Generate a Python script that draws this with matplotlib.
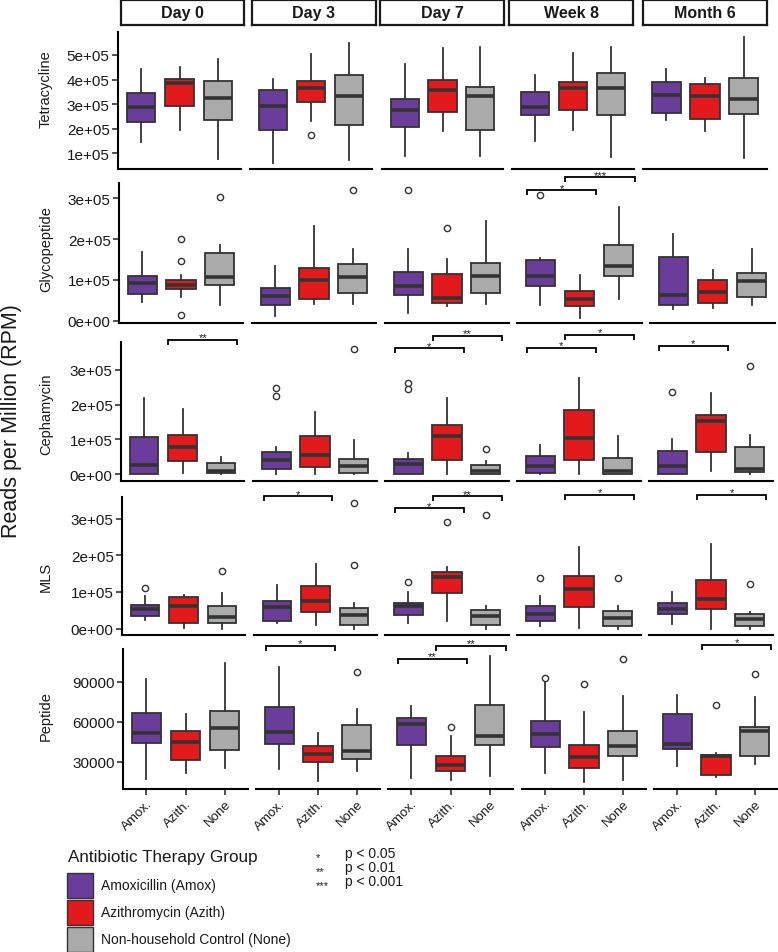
import matplotlib
matplotlib.use("Agg")
import matplotlib.pyplot as plt
from matplotlib.patches import Rectangle

plt.rcParams['font.family'] = ['Liberation Sans', 'DejaVu Sans']

# ---------------- data ----------------
times = ["Day 0", "Day 3", "Day 7", "Week 8", "Month 6"]
groups = ["Amox.", "Azith.", "None"]
classes = ["Tetracycline", "Glycopeptide", "Cephamycin", "MLS", "Peptide"]
legend_labels = ["Amoxicillin (Amox)", "Azithromycin (Azith)", "Non-household Control (None)"]
colors = ["#6B3D9A", "#E31A1C", "#AAAAAA"]

# each stat: rows = time points, cols = groups (Amox, Azith, None)
tet_q1 = [[2.28e5, 2.91e5, 2.36e5], [1.95e5, 3.07e5, 2.16e5], [2.07e5, 2.68e5, 1.97e5], [2.57e5, 2.76e5, 2.56e5], [2.65e5, 2.38e5, 2.61e5]]
tet_med = [[2.885e5, 3.84e5, 3.24e5], [2.94e5, 3.64e5, 3.35e5], [2.75e5, 3.59e5, 3.32e5], [2.89e5, 3.64e5, 3.64e5], [3.36e5, 3.32e5, 3.23e5]]
tet_q3 = [[3.46e5, 4.03e5, 3.95e5], [3.59e5, 3.93e5, 4.18e5], [3.21e5, 3.98e5, 3.70e5], [3.51e5, 3.92e5, 4.25e5], [3.89e5, 3.80e5, 4.06e5]]
tet_lo = [[1.45e5, 1.97e5, 0.77e5], [0.63e5, 2.30e5, 0.74e5], [0.90e5, 1.91e5, 0.90e5], [1.52e5, 1.97e5, 0.85e5], [2.35e5, 1.91e5, 0.80e5]]
tet_hi = [[4.41e5, 4.50e5, 4.84e5], [4.03e5, 5.03e5, 5.48e5], [4.65e5, 5.30e5, 5.34e5], [4.18e5, 5.07e5, 5.33e5], [4.41e5, 4.05e5, 5.71e5]]
tet_out = [(1, 1, 1.76e5)]

gly_q1 = [[0.65e5, 0.77e5, 0.88e5], [0.38e5, 0.54e5, 0.68e5], [0.64e5, 0.43e5, 0.69e5], [0.86e5, 0.37e5, 1.09e5], [0.39e5, 0.44e5, 0.59e5]]
gly_med = [[0.93e5, 0.88e5, 1.06e5], [0.60e5, 1.01e5, 1.06e5], [0.85e5, 0.56e5, 1.09e5], [1.09e5, 0.53e5, 1.34e5], [0.64e5, 0.70e5, 0.98e5]]
gly_q3 = [[1.09e5, 1.01e5, 1.66e5], [0.81e5, 1.28e5, 1.40e5], [1.20e5, 1.15e5, 1.42e5], [1.48e5, 0.74e5, 1.86e5], [1.56e5, 1.00e5, 1.18e5]]
gly_lo = [[0.47e5, 0.57e5, 0.38e5], [0.12e5, 0.40e5, 0.42e5], [0.19e5, 0.37e5, 0.41e5], [0.39e5, 0.07e5, 0.53e5], [0.28e5, 0.32e5, 0.38e5]]
gly_hi = [[1.68e5, 1.11e5, 1.86e5], [1.35e5, 2.33e5, 1.76e5], [1.76e5, 1.51e5, 2.45e5], [1.54e5, 1.13e5, 2.78e5], [2.12e5, 1.24e5, 1.76e5]]
gly_out = [(0, 1, 2.0e5), (0, 1, 1.46e5), (0, 1, 0.14e5), (0, 2, 3.04e5), (1, 2, 3.21e5),
           (2, 0, 3.21e5), (2, 1, 2.28e5), (3, 0, 3.08e5)]

cep_q1 = [[0.02e5, 0.39e5, 0.03e5], [0.15e5, 0.22e5, 0.03e5], [0.01e5, 0.42e5, 0.01e5], [0.05e5, 0.40e5, 0.01e5], [0.02e5, 0.63e5, 0.07e5]]
cep_med = [[0.28e5, 0.77e5, 0.11e5], [0.40e5, 0.55e5, 0.23e5], [0.29e5, 1.09e5, 0.11e5], [0.23e5, 1.04e5, 0.09e5], [0.24e5, 1.53e5, 0.16e5]]
cep_q3 = [[1.06e5, 1.13e5, 0.33e5], [0.63e5, 1.09e5, 0.43e5], [0.45e5, 1.42e5, 0.28e5], [0.54e5, 1.83e5, 0.47e5], [0.66e5, 1.71e5, 0.77e5]]
cep_lo = [[0.0, 0.04e5, 0.0], [0.0, 0.0, 0.0], [0.0, 0.0, 0.0], [0.0, 0.0, 0.0], [0.0, 0.09e5, 0.0]]
cep_hi = [[2.18e5, 1.88e5, 0.50e5], [0.78e5, 1.78e5, 0.98e5], [0.61e5, 2.18e5, 0.38e5], [0.83e5, 2.75e5, 1.11e5], [1.01e5, 2.33e5, 1.13e5]]
cep_out = [(1, 0, 2.47e5), (1, 0, 2.24e5), (1, 2, 3.59e5), (2, 0, 2.62e5), (2, 0, 2.45e5),
           (2, 2, 0.73e5), (4, 0, 2.37e5), (4, 2, 3.11e5)]

mls_q1 = [[0.35e5, 0.16e5, 0.14e5], [0.22e5, 0.45e5, 0.10e5], [0.36e5, 0.96e5, 0.09e5], [0.20e5, 0.59e5, 0.07e5], [0.39e5, 0.53e5, 0.06e5]]
mls_med = [[0.54e5, 0.62e5, 0.32e5], [0.59e5, 0.74e5, 0.37e5], [0.63e5, 1.41e5, 0.34e5], [0.41e5, 1.09e5, 0.28e5], [0.53e5, 0.80e5, 0.27e5]]
mls_q3 = [[0.65e5, 0.87e5, 0.62e5], [0.74e5, 1.15e5, 0.57e5], [0.70e5, 1.55e5, 0.50e5], [0.63e5, 1.43e5, 0.49e5], [0.69e5, 1.32e5, 0.41e5]]
mls_lo = [[0.23e5, 0.01e5, 0.0], [0.14e5, 0.10e5, 0.0], [0.14e5, 0.20e5, 0.0], [0.07e5, 0.02e5, 0.0], [0.13e5, 0.0, 0.0]]
mls_hi = [[0.88e5, 0.93e5, 0.96e5], [1.18e5, 1.75e5, 0.70e5], [1.00e5, 1.69e5, 0.62e5], [0.88e5, 2.22e5, 0.63e5], [1.00e5, 2.32e5, 0.46e5]]
mls_out = [(0, 0, 1.11e5), (0, 2, 1.56e5), (1, 2, 1.74e5), (1, 2, 3.43e5), (2, 0, 1.27e5),
           (2, 1, 2.92e5), (2, 2, 3.11e5), (3, 0, 1.39e5), (3, 2, 1.38e5), (4, 2, 1.21e5)]

pep_q1 = [[44250, 31275, 39000], [43275, 29550, 31800], [42750, 22800, 42525], [40800, 25050, 34050], [39525, 20250, 34500]]
pep_med = [[51525, 44775, 55500], [52500, 35775, 38250], [58050, 27525, 49500], [50775, 33300, 41775], [43275, 34500, 52800]]
pep_q3 = [[66300, 52800, 67800], [71250, 42000, 57525], [62775, 34500, 72525], [60750, 42750, 52800], [66000, 35250, 55800]]
pep_lo = [[17025, 21525, 25275], [24525, 15300, 23025], [17775, 16500, 19500], [21525, 14550, 16500], [27000, 18300, 28275]]
pep_hi = [[92025, 65775, 103800], [101250, 51750, 69525], [72000, 49500, 109050], [89550, 67050, 79050], [80025, 36525, 78300]]
pep_out = [(1, 2, 97050), (2, 1, 56250), (3, 0, 93000), (3, 1, 88275), (3, 2, 107025),
           (4, 1, 72750), (4, 2, 95775)]

# significance brackets: (class index, time index, comparison, height, label)
# comparison "A" = Amox vs Azith, "B" = Azith vs None
brackets = [
    (1, 3, "A", 3.20e5, "*"), (1, 3, "B", 3.51e5, "***"),
    (2, 0, "B", 3.85e5, "**"), (2, 2, "A", 3.61e5, "*"), (2, 2, "B", 3.97e5, "**"),
    (2, 3, "A", 3.63e5, "*"), (2, 3, "B", 3.99e5, "*"), (2, 4, "A", 3.68e5, "*"),
    (3, 1, "A", 3.61e5, "*"), (3, 2, "A", 3.28e5, "*"), (3, 2, "B", 3.61e5, "**"),
    (3, 3, "B", 3.65e5, "*"), (3, 4, "B", 3.65e5, "*"),
    (4, 1, "A", 117000, "*"), (4, 2, "A", 107025, "**"), (4, 2, "B", 117000, "**"),
    (4, 4, "B", 117750, "*"),
]
bracket_span = {"A": (0.65, 2.43), "B": (1.63, 3.43)}

row_stats = [
    (tet_q1, tet_med, tet_q3, tet_lo, tet_hi, tet_out),
    (gly_q1, gly_med, gly_q3, gly_lo, gly_hi, gly_out),
    (cep_q1, cep_med, cep_q3, cep_lo, cep_hi, cep_out),
    (mls_q1, mls_med, mls_q3, mls_lo, mls_hi, mls_out),
    (pep_q1, pep_med, pep_q3, pep_lo, pep_hi, pep_out),
]
row_ticks = [[1e5, 2e5, 3e5, 4e5, 5e5], [0, 1e5, 2e5, 3e5], [0, 1e5, 2e5, 3e5], [0, 1e5, 2e5, 3e5], [30000, 60000, 90000]]
row_ylim = [(0.39e5, 5.93e5), (-0.056e5, 3.375e5), (-0.19e5, 3.79e5), (-0.174e5, 3.59e5), (9525, 114525)]

# ---------------- layout (pixels) ----------------
W, H = 778, 953
row_y = [(33, 169.5), (184, 324), (343, 482), (498, 636), (650, 790)]
row_cols = [
    [(118, 241), (250, 372), (382, 503), (512, 634), (643, 767)],
    [(119, 243), (252, 376), (385, 509), (517, 642), (650, 775)],
    [(121, 244), (253, 377), (385, 509), (517, 641), (649, 773)],
    [(122, 245), (254, 377), (385, 509), (517, 641), (649, 773)],
    [(123, 248), (256, 380), (388, 513), (522, 646), (654, 778)],
]
strip_x = [(121, 244), (252, 376), (380, 504), (509, 633), (643, 767)]
row_label_y = [89.5, 249, 414.5, 576.7, 716]

EDGE = "#333333"

fig = plt.figure(figsize=(W / 100, H / 100), dpi=100)

# overlay for legend elements (pixel coords)
ov = fig.add_axes([0, 0, 1, 1])
ov.set_xlim(0, W)
ov.set_ylim(H, 0)
ov.axis("off")


def px_axes(x0, y0, x1, y1):
    return fig.add_axes([x0 / W, 1 - y1 / H, (x1 - x0) / W, (y1 - y0) / H])


axes = {}
for r in range(5):
    q1, med, q3, lo, hi, outs = row_stats[r]
    y0, y1 = row_y[r]
    for c in range(5):
        x0, x1 = row_cols[r][c]
        ax = px_axes(x0, y0, x1, y1)
        axes[(r, c)] = ax
        stats = []
        for g in range(3):
            stats.append(dict(med=med[c][g], q1=q1[c][g], q3=q3[c][g],
                              whislo=lo[c][g], whishi=hi[c][g],
                              fliers=[o[2] for o in outs if o[0] == c and o[1] == g]))
        bp = ax.bxp(stats, positions=[1, 2, 3], widths=0.75, patch_artist=True,
                    showcaps=False,
                    boxprops=dict(edgecolor=EDGE, linewidth=1.3),
                    medianprops=dict(color=EDGE, linewidth=2.6),
                    whiskerprops=dict(color=EDGE, linewidth=1.3),
                    flierprops=dict(marker="o", markerfacecolor="white", markeredgecolor=EDGE,
                                    markersize=4.5, markeredgewidth=1.0))
        for patch, col in zip(bp["boxes"], colors):
            patch.set_facecolor(col)
        ax.set_xlim(0.4, 3.6)
        ax.set_ylim(*row_ylim[r])
        ax.set_facecolor("none")
        for s in ["top", "right"]:
            ax.spines[s].set_visible(False)
        ax.spines["bottom"].set_linewidth(1.5)
        ax.spines["bottom"].set_color("black")
        if c == 0:
            ax.spines["left"].set_linewidth(1.5)
            ax.spines["left"].set_color("black")
            ax.set_yticks(row_ticks[r])
            if r < 4:
                ax.set_yticklabels([f"{v:.0e}" for v in row_ticks[r]])
            else:
                ax.set_yticklabels([str(int(v)) for v in row_ticks[r]])
            ax.tick_params(axis="y", length=4, width=1.2, color=EDGE, labelsize=11,
                           labelcolor="#1a1a1a", pad=2)
        else:
            ax.spines["left"].set_visible(False)
            ax.set_yticks([])
        if r == 4:
            ax.set_xticks([1, 2, 3])
            ax.set_xticklabels(groups, rotation=45, ha="right", rotation_mode="anchor",
                               fontsize=9.5, color="#1a1a1a")
            ax.tick_params(axis="x", length=4, width=1.2, color=EDGE, pad=2)
        else:
            ax.set_xticks([])

# significance brackets
for (r, c, comp, h, lab) in brackets:
    ax = axes[(r, c)]
    ylo, yhi = row_ylim[r]
    y0, y1 = row_y[r]
    tick = 5 * (yhi - ylo) / (y1 - y0)
    xa, xb = bracket_span[comp]
    ax.plot([xa, xa, xb, xb], [h - tick, h, h, h - tick], color="black", lw=1.3,
            clip_on=False, solid_capstyle="butt", solid_joinstyle="miter")
    ax.text((xa + xb) / 2, h - tick * 0.1, lab, ha="center", va="baseline", fontsize=8,
            clip_on=False, color="#1a1a1a")

# strips
for c in range(5):
    x0, x1 = strip_x[c]
    sax = px_axes(x0, 1, x1, 26)
    sax.set_xticks([])
    sax.set_yticks([])
    for s in sax.spines.values():
        s.set_linewidth(1.6)
        s.set_color("#1a1a1a")
    sax.text(0.5, 0.5, times[c], ha="center", va="center", fontsize=11.5, fontweight="bold",
             transform=sax.transAxes, color="#1a1a1a")

# row labels and overall label
for r in range(5):
    ov.text(46, row_label_y[r], classes[r], rotation=90, ha="center", va="center",
            fontsize=10.5, color="#1a1a1a")
ov.text(12, 421, "Reads per Million (RPM)", rotation=90, ha="center", va="center",
        fontsize=15.5, color="#1a1a1a")

# legend
ov.text(68, 858, "Antibiotic Therapy Group", ha="left", va="center", fontsize=12.3,
        color="#1a1a1a")
key_top = [874, 901, 928]
for i in range(3):
    ov.add_patch(Rectangle((67, key_top[i]), 26, 25, facecolor=colors[i], edgecolor=EDGE,
                           linewidth=1.0))
    ov.text(101, key_top[i] + 12.5, legend_labels[i], ha="left", va="center", fontsize=10,
            color="#1a1a1a")

p_stars = ["*", "**", "***"]
p_texts = ["p < 0.05", "p < 0.01", "p < 0.001"]
p_y = [854, 868.5, 882.5]
for i in range(3):
    ov.text(315.5, p_y[i] + 4, p_stars[i], ha="left", va="center", fontsize=8, color="#1a1a1a")
    ov.text(345, p_y[i], p_texts[i], ha="left", va="center", fontsize=10, color="#1a1a1a")

fig.savefig("out.png", dpi=100)
